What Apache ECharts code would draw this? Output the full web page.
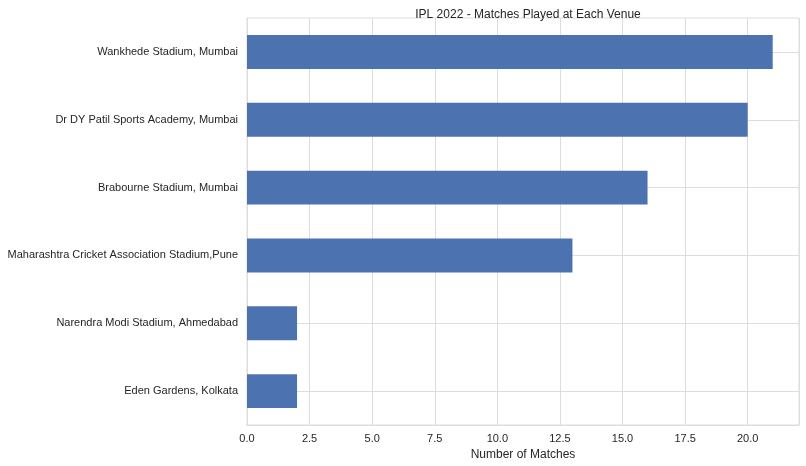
<!DOCTYPE html>
<html><head><meta charset="utf-8">
<script src="https://cdn.jsdelivr.net/npm/echarts@6/dist/echarts.min.js"></script>
<style>html,body{margin:0;padding:0;background:#fff}#c{width:806px;height:466px}</style>
</head><body><div id="c"></div>
<script>
const venues = ["Eden Gardens, Kolkata","Narendra Modi Stadium, Ahmedabad","Maharashtra Cricket Association Stadium,Pune","Brabourne Stadium, Mumbai","Dr DY Patil Sports Academy, Mumbai","Wankhede Stadium, Mumbai"];
const matches = [2,2,13,16,20,21];
const chart = echarts.init(document.getElementById('c'));
const txt = '#262626', font = 'Liberation Sans';
chart.setOption({
  animation:false,
  textStyle:{fontFamily:font},
  title:{text:'IPL 2022 - Matches Played at Each Venue',left:523,top:4,textAlign:'center',textStyle:{fontSize:12,fontWeight:'normal',color:txt,fontFamily:font}},
  grid:{left:247,right:7,top:18,bottom:41,containLabel:false,outerBoundsMode:'none',show:true,borderColor:'#ddd',borderWidth:1},
  xAxis:{type:'value',min:0,max:22.05,interval:2.5,name:'Number of Matches',nameLocation:'middle',nameGap:20,
    nameTextStyle:{fontSize:12,color:txt,fontFamily:font},
    axisLabel:{fontSize:11,color:txt,fontFamily:font,formatter:v=>v>22?'':v.toFixed(1),showMaxLabel:false},
    axisLine:{show:true,lineStyle:{color:'#ddd'}},axisTick:{show:false},
    splitLine:{lineStyle:{color:'#ddd'}}},
  yAxis:{type:'category',data:venues,name:'Venue',nameLocation:'middle',nameGap:232,nameRotate:90,
    nameTextStyle:{fontSize:12,color:txt,fontFamily:font},
    axisLabel:{fontSize:11,color:txt,fontFamily:font,margin:9},axisLine:{show:true,lineStyle:{color:'#ddd'}},axisTick:{show:false},splitLine:{show:false}},
  series:[
    {type:'line',data:[],zlevel:0,markLine:{silent:true,symbol:'none',label:{show:false},lineStyle:{color:'#ddd',type:'solid',width:1},
      data:venues.map(v=>({yAxis:v}))}},
    {type:'bar',data:matches,barWidth:'50%',itemStyle:{color:'#4c72b0'},zlevel:1}
  ]
});
</script></body></html>
